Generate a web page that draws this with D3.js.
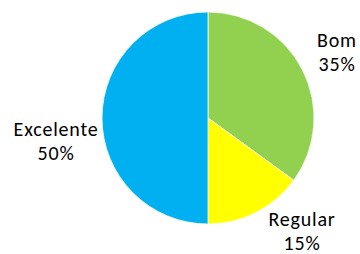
<!DOCTYPE html>
<html>
<head>
<meta charset="utf-8">
<script src="https://cdnjs.cloudflare.com/ajax/libs/d3/7.8.5/d3.min.js"></script>
<style>
  body { margin: 0; background: #fff; }
  text { font-family: Carlito, Lato, "Open Sans", sans-serif; fill: #000; letter-spacing: 0.8px; }
</style>
</head>
<body>
<div id="chart"></div>
<script>
// data
const categories = ["Bom", "Regular", "Excelente"];
const values = [35, 15, 50];
const colors = ["#92D050", "#FFFF00", "#00B0F0"];

const width = 360, height = 254;
const cx = 208, cy = 118, radius = 106;
const fontSize = 20, lineGap = 24;

// label centres, relative to the pie centre (first line baseline)
const labelOffsets = [[129, -71], [94, 108], [-152, 18]];

const svg = d3.select("#chart").append("svg")
    .attr("width", width)
    .attr("height", height);

const g = svg.append("g").attr("transform", `translate(${cx},${cy})`);

const pie = d3.pie().sort(null).value(d => d);
const arc = d3.arc().innerRadius(0).outerRadius(radius);
const arcs = pie(values);

g.selectAll("path")
    .data(arcs)
    .join("path")
    .attr("d", arc)
    .attr("fill", (d, i) => colors[i])
    .attr("stroke", "#fff")
    .attr("stroke-width", 0.75);

const total = d3.sum(values);
const label = g.selectAll("text")
    .data(arcs)
    .join("text")
    .attr("text-anchor", "middle")
    .attr("font-size", fontSize)
    .attr("transform", (d, i) => `translate(${labelOffsets[i][0]},${labelOffsets[i][1]})`);

label.append("tspan")
    .attr("x", 0).attr("y", 0)
    .text((d, i) => categories[i]);
label.append("tspan")
    .attr("x", 0).attr("y", lineGap)
    .text(d => d3.format(".0%")(d.data / total));
</script>
</body>
</html>
